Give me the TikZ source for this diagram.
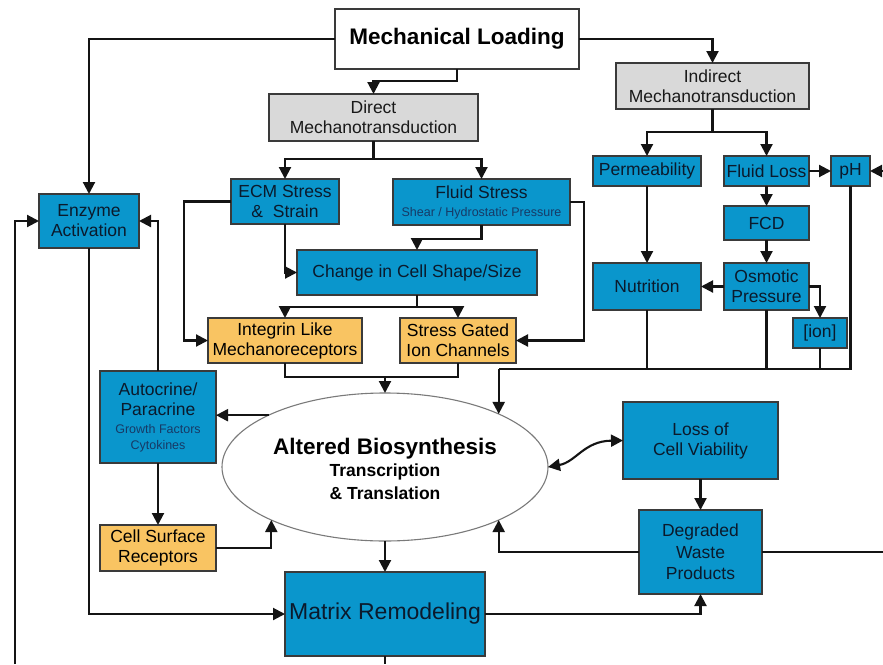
\documentclass[tikz,border=0pt]{standalone}
\usepackage{fontspec}
\setmainfont{Liberation Sans}
\usetikzlibrary{arrows.meta,shapes.geometric}
\definecolor{boxblue}{HTML}{0A96CC}
\definecolor{boxorange}{HTML}{F9C462}
\definecolor{boxgray}{HTML}{D9D9D9}
\definecolor{edgegray}{HTML}{3A3A3A}
\definecolor{ellgray}{HTML}{7A7A7A}
\definecolor{inkblue}{HTML}{0B1A2C}
\definecolor{smallink}{HTML}{173A66}
\definecolor{wire}{HTML}{141414}
% small annotation text inside boxes
\newcommand\smalltxt{\fontsize{12.5}{15}\selectfont\color{smallink}}

\begin{document}
\begin{tikzpicture}[x=1pt,y=-1pt,
  box/.style={draw=edgegray, line width=1.3pt, inner sep=0pt, outer sep=0pt,
    align=center, font=\fontsize{17.5}{20}\selectfont, text=inkblue},
  bluebox/.style={box, fill=boxblue},
  orangebox/.style={box, fill=boxorange, text=black},
  graybox/.style={box, fill=boxgray, text=black!90},
  whitebox/.style={box, fill=white, text=black},
  link/.style={draw=wire, line width=2.1pt, -{Triangle[length=12pt,width=12pt]}},
  twoway/.style={draw=wire, line width=2.1pt,
    {Triangle[length=12pt,width=12pt]}-{Triangle[length=12pt,width=12pt]}},
  plain/.style={draw=wire, line width=2.1pt},
  biotext/.style={anchor=base, inner sep=0pt, text=black, font=\bfseries}
]
\fill[white] (0,0) rectangle (883,664);
\useasboundingbox (0,0) rectangle (883,664);

% ---- boxes ----
\node[whitebox, minimum width=244pt, minimum height=60pt,
  font=\fontsize{22.5}{26}\selectfont\bfseries] (ml) at (457,39) {\raisebox{-2pt}{Mechanical Loading}};
\node[graybox, minimum width=209pt, minimum height=47pt] (dir) at (373.5,117.5) {Direct\\Mechanotransduction};
\node[graybox, minimum width=193pt, minimum height=46pt] (ind) at (712.5,86) {Indirect\\Mechanotransduction};

\node[bluebox, minimum width=100pt, minimum height=54pt] (enz) at (89,221) {Enzyme\\Activation};
\node[bluebox, minimum width=108pt, minimum height=45pt] (ecm) at (285,201.5) {ECM Stress\\\&\ \ Strain};
\node[bluebox, minimum width=177pt, minimum height=46pt] (fluid) at (481.5,202)
  {Fluid Stress\\[-2pt]\smalltxt Shear / Hydrostatic Pressure};
\node[bluebox, minimum width=240pt, minimum height=45pt] (chg) at (417,272.5) {Change in Cell Shape/Size};
\node[orangebox, minimum width=154pt, minimum height=45pt] (integ) at (285,340.5) {Integrin Like\\Mechanoreceptors};
\node[orangebox, minimum width=116pt, minimum height=45pt] (sg) at (458,340.5) {Stress Gated\\Ion Channels};
\node[bluebox, minimum width=116pt, minimum height=92pt] (auto) at (158,417)
  {Autocrine/\\Paracrine\\[-2pt]\smalltxt Growth Factors\\[-4pt]\smalltxt Cytokines};
\node[orangebox, minimum width=116pt, minimum height=46pt] (csr) at (158,548) {Cell Surface\\Receptors};
\node[bluebox, minimum width=200pt, minimum height=84pt,
  font=\fontsize{23}{26}\selectfont] (mat) at (385,614) {Matrix Remodeling};
\node[bluebox, minimum width=155pt, minimum height=77pt] (loss) at (700.5,440.5) {Loss of\\Cell Viability};
\node[bluebox, minimum width=123pt, minimum height=84pt,
  font=\fontsize{17.5}{21.5}\selectfont] (deg) at (700.5,552) {Degraded\\Waste\\Products};

\node[bluebox, minimum width=108pt, minimum height=30pt] (perm) at (647,171) {Permeability};
\node[bluebox, minimum width=85pt, minimum height=30pt] (floss) at (766.5,171) {Fluid Loss};
\node[bluebox, minimum width=39pt, minimum height=30pt] (ph) at (850.5,171) {pH};
\node[bluebox, minimum width=85pt, minimum height=34pt] (fcd) at (766.5,223) {FCD};
\node[bluebox, minimum width=108pt, minimum height=47pt] (nutr) at (647,286.5) {Nutrition};
\node[bluebox, minimum width=85pt, minimum height=47pt] (osm) at (766.5,286.5) {Osmotic\\Pressure};
\node[bluebox, minimum width=54pt, minimum height=30pt] (ion) at (820,333) {[ion]};

% ---- central ellipse ----
\node[ellipse, draw=ellgray, line width=1.1pt, fill=white, inner sep=0pt, outer sep=0pt,
  minimum width=326pt, minimum height=148pt] (bio) at (385,467) {};
\node[biotext, font=\fontsize{22.5}{24}\selectfont\bfseries] (bioA) at (385,454) {Altered Biosynthesis};
\node[biotext, font=\fontsize{17.5}{20}\selectfont\bfseries] (bioB) at (385,476.5) {Transcription};
\node[biotext, font=\fontsize{17.5}{20}\selectfont\bfseries] (bioC) at (385,499.5) {\& Translation};

% ---- helper coordinates ----
\coordinate (busy) at (0,369);
\coordinate (recvy) at (0,377);
\coordinate (redgeA) at (883,171);
\coordinate (redgeB) at (883,552);
\coordinate (ledge) at (15,664);
\coordinate (bedge) at (385,664);

% ---- loading branches ----
\draw[link] (ml.west) -| (enz.north);
\draw[link] (ml.east) -| (ind.north);
\draw[link] (ml.south) -- ++(0,12) -| (dir.north);

% direct pathway
\draw[plain] (dir.south) -- ++(0,18) coordinate (dj);
\draw[link] (dj) -| (ecm.north);
\draw[link] (dj) -| (fluid.north);
\draw[link] (ecm.south) |- (chg.west);
\draw[link] (fluid.south) -- ++(0,14) -| (chg.north);
\draw[link] (ecm.west) -- ++(-47,0) |- (integ.west);
\draw[link] (fluid.east) -- ++(14,0) |- (sg.east);
\draw[plain] (chg.south) -- ++(0,12) coordinate (cj);
\draw[link] (cj) -| (integ.north);
\draw[link] (cj) -| (sg.north);
\draw[plain] (integ.south) |- (sg.south |- recvy) -- (sg.south);
\draw[link] (bio.north |- recvy) -- (bio.north);

% indirect pathway
\draw[plain] (ind.south) -- ++(0,23) coordinate (ij);
\draw[link] (ij) -| (perm.north);
\draw[link] (ij) -| (floss.north);
\draw[link] (floss) -- (ph);
\draw[link] (redgeA) -- (ph.east);
\draw[link] (floss) -- (fcd);
\draw[link] (fcd) -- (osm);
\draw[link] (osm) -- (nutr);
\draw[link] (osm.east) -| (ion.north);
\draw[link] (perm) -- (nutr);

% collecting bus into the ellipse
\coordinate (busL) at (bio.25 |- busy);
\draw[plain] (ph.south) -- (ph.south |- busy) -- (busL);
\draw[plain] (nutr.south) -- (nutr.south |- busy);
\draw[plain] (osm.south) -- (osm.south |- busy);
\draw[plain] (ion.south) -- (ion.south |- busy);
\draw[link] (busL) -- (bio.25);

% feedback on the left
\draw[link] (bio.156.6) -- (bio.156.6 -| auto.east);
\draw[link] (auto.north) |- (enz.east);
\draw[link] (auto) -- (csr);
\draw[link] (csr.east) -| (bio.205);
\draw[link] (enz.south) |- (mat.west);
\draw[link] (ledge) |- (enz.west);

% outputs
\draw[link] (bio.south) -- (mat.north);
\draw[plain] (mat.south) -- (bedge);
\draw[link] (mat.east) -| (deg.south);
\draw[twoway] (bio.east) .. controls (576,462) and (584,441) .. (loss.west);
\draw[link] (loss) -- (deg);
\draw[link] (deg.west) -| (bio.335);
\draw[plain] (deg.east) -- (redgeB);
\end{tikzpicture}
\end{document}
